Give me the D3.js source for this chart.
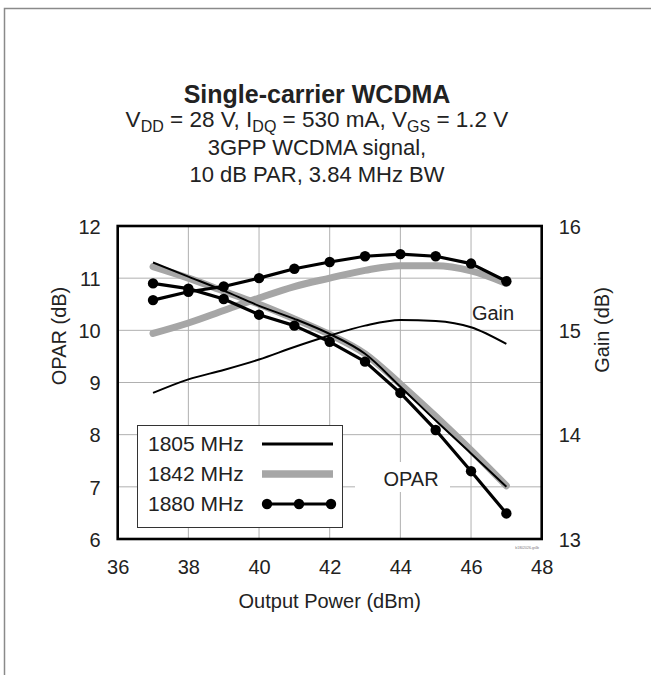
<!DOCTYPE html>
<html>
<head>
<meta charset="utf-8">
<script src="https://cdn.jsdelivr.net/npm/d3@7"></script>
<style>
  body { margin: 0; background: #fff; }
  svg { font-family: "Liberation Sans", Arial, sans-serif; }
</style>
</head>
<body>
<div id="chart"></div>
<script>
// output power (dBm)
const power = [37, 38, 39, 40, 41, 42, 43, 44, 45, 46, 47];

// gain (dB), right axis
const gain1805 = [14.40, 14.53, 14.62, 14.72, 14.84, 14.95, 15.045, 15.10, 15.09, 15.03, 14.87];
const gain1842 = [14.97, 15.07, 15.19, 15.31, 15.42, 15.50, 15.575, 15.62, 15.62, 15.57, 15.45];
const gain1880 = [15.29, 15.37, 15.42, 15.50, 15.59, 15.655, 15.71, 15.73, 15.71, 15.64, 15.47];

// OPAR (dB), left axis
const opar1805 = [11.30, 11.03, 10.76, 10.47, 10.22, 9.93, 9.55, 8.92, 8.27, 7.64, 7.00];
const opar1842 = [11.22, 11.00, 10.75, 10.50, 10.22, 9.92, 9.55, 8.97, 8.35, 7.70, 7.02];
const opar1880 = [10.90, 10.80, 10.60, 10.30, 10.09, 9.78, 9.40, 8.80, 8.09, 7.30, 6.49];

const xTicks = [36, 38, 40, 42, 44, 46, 48];
const yLeftTicks = [6, 7, 8, 9, 10, 11, 12];
const yRightTicks = [13, 14, 15, 16];
const legendLabels = ["1805 MHz", "1842 MHz", "1880 MHz"];

const W = 651, H = 675;
const pLeft = 117.7, pRight = 541.7, pTop = 226, pBottom = 539;

const svg = d3.select("#chart").append("svg")
  .attr("width", W)
  .attr("height", H);

// outer frame (only left and top edges show)
svg.append("path")
  .attr("d", `M4.5,${H} V8.5 H${W}`)
  .attr("fill", "none")
  .attr("stroke", "#8a8a8a")
  .attr("stroke-width", 1.5);

const x = d3.scaleLinear().domain([36, 48]).range([pLeft, pRight]);
const yL = d3.scaleLinear().domain([6, 12]).range([pBottom, pTop]);
const yR = d3.scaleLinear().domain([13, 16]).range([pBottom, pTop]);

// grid
const grid = svg.append("g").attr("stroke", "#b0b0b0").attr("stroke-width", 1);
grid.selectAll("line.v").data(xTicks.slice(1, -1)).join("line")
  .attr("class", "v")
  .attr("x1", d => x(d)).attr("x2", d => x(d))
  .attr("y1", pTop).attr("y2", pBottom);
grid.selectAll("line.h").data(yLeftTicks.slice(1, -1)).join("line")
  .attr("class", "h")
  .attr("x1", pLeft).attr("x2", pRight)
  .attr("y1", d => yL(d)).attr("y2", d => yL(d));

// axes (labels only, frame drawn below)
const fs = 20;
const xAxis = svg.append("g")
  .attr("transform", `translate(0,${pBottom})`)
  .call(d3.axisBottom(x).tickValues(xTicks).tickFormat(d3.format("d"))
    .tickSize(0).tickPadding(21));
const yAxisL = svg.append("g")
  .attr("transform", `translate(${pLeft},0)`)
  .call(d3.axisLeft(yL).tickValues(yLeftTicks).tickFormat(d3.format("d"))
    .tickSize(0).tickPadding(17));
const yAxisR = svg.append("g")
  .attr("transform", `translate(${pRight},0)`)
  .call(d3.axisRight(yR).tickValues(yRightTicks).tickFormat(d3.format("d"))
    .tickSize(0).tickPadding(17));
[xAxis, yAxisL, yAxisR].forEach(g => {
  g.select(".domain").remove();
  g.selectAll("text").attr("font-size", fs).attr("fill", "#222")
    .attr("font-family", "Liberation Sans, Arial, sans-serif");
});
yAxisL.selectAll("text").attr("dy", "0.36em");
yAxisR.selectAll("text").attr("dy", "0.36em");

// legend box (white, covers grid)
const lg = svg.append("g");
lg.append("rect")
  .attr("x", 137.5).attr("y", 425.5)
  .attr("width", 205).attr("height", 102)
  .attr("fill", "#fff").attr("stroke", "#333").attr("stroke-width", 1);

// white patch behind OPAR label
svg.append("rect")
  .attr("x", 355).attr("y", 462).attr("width", 95).attr("height", 30)
  .attr("fill", "#fff");

// curves
const smooth = yScale => d3.line()
  .x((d, i) => x(power[i]))
  .y(d => yScale(d))
  .curve(d3.curveMonotoneX);

const plot = svg.append("g");
// 1842 MHz gray thick
[[opar1842, yL], [gain1842, yR]].forEach(([s, sc]) => {
  plot.append("path").attr("d", smooth(sc)(s))
    .attr("fill", "none").attr("stroke", "#a6a6a6")
    .attr("stroke-width", 7).attr("stroke-linecap", "round");
});
// 1805 MHz thin black
[[opar1805, yL], [gain1805, yR]].forEach(([s, sc]) => {
  plot.append("path").attr("d", smooth(sc)(s))
    .attr("fill", "none").attr("stroke", "#000")
    .attr("stroke-width", 2);
});
// 1880 MHz black with markers
const straight = yScale => d3.line()
  .x((d, i) => x(power[i]))
  .y(d => yScale(d));
[[opar1880, yL], [gain1880, yR]].forEach(([s, sc]) => {
  plot.append("path").attr("d", straight(sc)(s))
    .attr("fill", "none").attr("stroke", "#000")
    .attr("stroke-width", 3.2).attr("stroke-linejoin", "round");
  plot.append("g").selectAll("circle").data(s).join("circle")
    .attr("cx", (d, i) => x(power[i]))
    .attr("cy", d => sc(d))
    .attr("r", 5.2).attr("fill", "#000");
});

// plot frame
svg.append("rect")
  .attr("x", pLeft).attr("y", pTop)
  .attr("width", pRight - pLeft).attr("height", pBottom - pTop)
  .attr("fill", "none").attr("stroke", "#000").attr("stroke-width", 2.6);

// legend entries
const legY = [444, 474, 504];
lg.raise();
lg.selectAll("text").data(legendLabels).join("text")
  .attr("x", 148).attr("y", (d, i) => legY[i] + 7)
  .attr("font-size", 21).attr("fill", "#222")
  .text(d => d);
lg.append("line").attr("x1", 262).attr("x2", 333)
  .attr("y1", legY[0]).attr("y2", legY[0])
  .attr("stroke", "#000").attr("stroke-width", 3);
lg.append("line").attr("x1", 262).attr("x2", 333)
  .attr("y1", legY[1]).attr("y2", legY[1])
  .attr("stroke", "#a6a6a6").attr("stroke-width", 7.5);
lg.append("line").attr("x1", 267).attr("x2", 331)
  .attr("y1", legY[2]).attr("y2", legY[2])
  .attr("stroke", "#000").attr("stroke-width", 3.2);
lg.selectAll("circle").data([267, 299, 331]).join("circle")
  .attr("cx", d => d).attr("cy", legY[2]).attr("r", 5.2).attr("fill", "#000");

// in-plot labels
svg.append("text").attr("x", 493).attr("y", 320)
  .attr("text-anchor", "middle").attr("font-size", fs).attr("fill", "#222")
  .text("Gain");
svg.append("text").attr("x", 411).attr("y", 486)
  .attr("text-anchor", "middle").attr("font-size", fs).attr("fill", "#222")
  .text("OPAR");

// tiny figure id
svg.append("text").attr("x", 539).attr("y", 549)
  .attr("text-anchor", "end").attr("font-size", 3.5).attr("fill", "#777")
  .text("b1802026-gr4b");

// axis titles
svg.append("text").attr("x", (pLeft + pRight) / 2).attr("y", 608)
  .attr("text-anchor", "middle").attr("font-size", fs).attr("fill", "#222")
  .text("Output Power (dBm)");
svg.append("text")
  .attr("transform", "translate(66,336) rotate(-90)")
  .attr("text-anchor", "middle").attr("font-size", fs).attr("fill", "#222")
  .text("OPAR (dB)");
svg.append("text")
  .attr("transform", "translate(609,330) rotate(-90)")
  .attr("text-anchor", "middle").attr("font-size", fs).attr("fill", "#222")
  .text("Gain (dB)");

// title block
const cx = 317;
svg.append("text").attr("x", cx).attr("y", 103)
  .attr("text-anchor", "middle").attr("font-size", 25)
  .attr("font-weight", "bold").attr("fill", "#222")
  .text("Single-carrier WCDMA");

const t2 = svg.append("text").attr("x", cx).attr("y", 127)
  .attr("text-anchor", "middle").attr("font-size", 22.5).attr("fill", "#222");
const parts = [["V", ""], ["DD", "sub"], [" = 28 V, I", ""], ["DQ", "sub"],
  [" = 530 mA, V", ""], ["GS", "sub"], [" = 1.2 V", ""]];
parts.forEach(([s, k], i) => {
  const ts = t2.append("tspan").text(s);
  if (k === "sub") ts.attr("font-size", 16).attr("dy", 5);
  else if (i > 0) ts.attr("dy", -5);
});
svg.append("text").attr("x", cx).attr("y", 155)
  .attr("text-anchor", "middle").attr("font-size", 22).attr("fill", "#222")
  .text("3GPP WCDMA signal,");
svg.append("text").attr("x", cx).attr("y", 182)
  .attr("text-anchor", "middle").attr("font-size", 22).attr("fill", "#222")
  .text("10 dB PAR, 3.84 MHz BW");
</script>
</body>
</html>
